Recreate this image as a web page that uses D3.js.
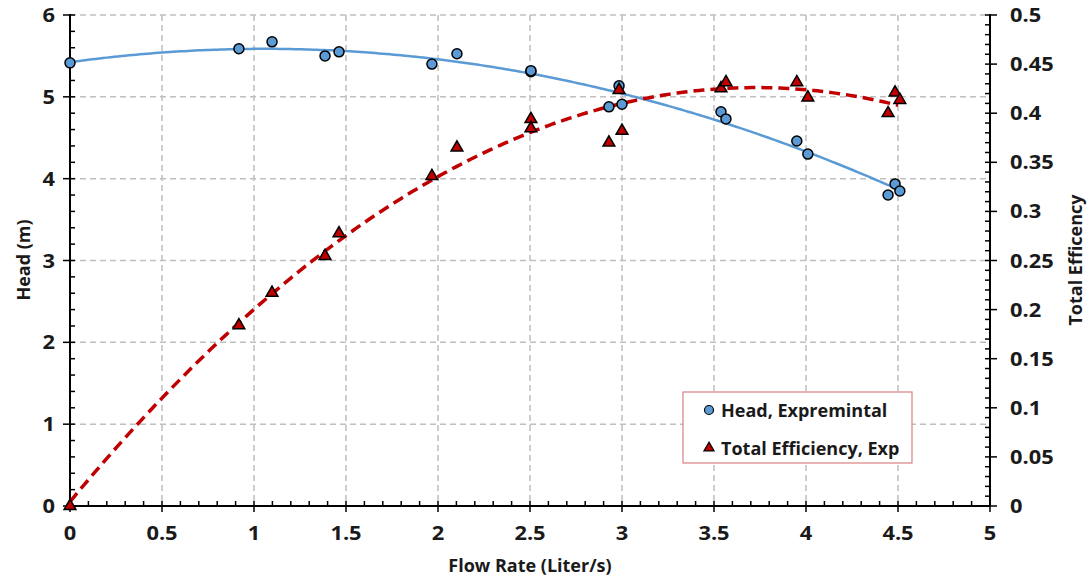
<!DOCTYPE html>
<html><head><meta charset="utf-8">
<script src="https://cdn.jsdelivr.net/npm/d3@7"></script>
<style>
body{margin:0;background:#fff;}
text{font-family:"Open Sans",sans-serif;font-weight:700;fill:#1a1a1a;}
</style></head>
<body><svg id="c" width="1087" height="581"></svg>
<script>
const flowRate = [0, 0.918, 1.098, 1.386, 1.462, 1.967, 2.103, 2.505, 2.505, 2.929, 2.984, 3.0, 3.538, 3.565, 3.95, 4.01, 4.446, 4.484, 4.51];
const headExp = [5.415, 5.587, 5.672, 5.50, 5.55, 5.40, 5.526, 5.306, 5.32, 4.878, 5.134, 4.91, 4.817, 4.73, 4.46, 4.30, 3.80, 3.936, 3.85];
const efficiencyExp = [0, 0.184, 0.217, 0.2546, 0.2777, 0.336, 0.365, 0.394, 0.3846, 0.370, 0.4236, 0.382, 0.4253, 0.4315, 0.4315, 0.416, 0.400, 0.421, 0.4134];
const xTicks = [0,0.5,1,1.5,2,2.5,3,3.5,4,4.5,5];
const headTicks = [0,1,2,3,4,5,6];
const effTicks = [0,0.05,0.1,0.15,0.2,0.25,0.3,0.35,0.4,0.45,0.5];
const legendLabels = ["Head, Expremintal","Total Efficiency, Exp"];

const svg = d3.select("#c");
const L=70,R=990,T=15,B=506;
const x = d3.scaleLinear().domain([0,5]).range([L,R]);
const yH = d3.scaleLinear().domain([0,6]).range([B,T]);
const yE = d3.scaleLinear().domain([0,0.5]).range([B,T]);

function polyfit(xs, ys, deg){
  const n=deg+1; const A=[];
  for(let i=0;i<n;i++){A.push(new Array(n+1).fill(0));}
  xs.forEach((xv,k)=>{
    for(let i=0;i<n;i++){
      for(let j=0;j<n;j++) A[i][j]+=Math.pow(xv,i+j);
      A[i][n]+=ys[k]*Math.pow(xv,i);
    }
  });
  for(let i=0;i<n;i++){
    let p=i; for(let r=i+1;r<n;r++) if(Math.abs(A[r][i])>Math.abs(A[p][i])) p=r;
    [A[i],A[p]]=[A[p],A[i]];
    for(let r=0;r<n;r++){ if(r===i) continue; const f=A[r][i]/A[i][i]; for(let c=i;c<=n;c++) A[r][c]-=f*A[i][c]; }
  }
  return A.map((row,i)=>row[n]/row[i]);
}
const pv=(c,v)=>c.reduce((s,a,i)=>s+a*Math.pow(v,i),0);

// grid
const g=svg.append("g");
xTicks.slice(1).forEach(t=>g.append("line").attr("x1",x(t)).attr("x2",x(t)).attr("y1",T).attr("y2",B)
  .attr("stroke","#bfbfbf").attr("stroke-width",1.5).attr("stroke-dasharray","6,4"));
headTicks.slice(1).forEach(t=>g.append("line").attr("x1",L).attr("x2",R).attr("y1",yH(t)).attr("y2",yH(t))
  .attr("stroke","#bfbfbf").attr("stroke-width",1.5).attr("stroke-dasharray","6,4"));

// axes
const ax=svg.append("g").attr("stroke","#000").attr("stroke-width",2);
ax.append("line").attr("x1",L).attr("x2",R).attr("y1",B).attr("y2",B);
ax.append("line").attr("x1",L).attr("x2",L).attr("y1",T-1).attr("y2",B);
ax.append("line").attr("x1",R).attr("x2",R).attr("y1",T-1).attr("y2",B);
d3.range(0,51).forEach(i=>{const v=i/10; const major=i%5===0;
  ax.append("line").attr("x1",x(v)).attr("x2",x(v)).attr("y1",major?B+6:B).attr("y2",B-5).attr("stroke-width",1.5);});
d3.range(0,31).forEach(i=>{const v=i/5; const major=i%5===0;
  ax.append("line").attr("x1",major?L-7:L).attr("x2",L+5).attr("y1",yH(v)).attr("y2",yH(v)).attr("stroke-width",1.5);});
d3.range(0,51).forEach(i=>{const v=i/100; const major=i%5===0;
  ax.append("line").attr("x1",R-5).attr("x2",major?R+7:R).attr("y1",yE(v)).attr("y2",yE(v)).attr("stroke-width",1.5);});

const fs=19, sx=1.15;
const lab=(px,py,anchor,t)=>svg.append("text").attr("transform",`translate(${px},${py}) scale(${sx},1)`)
  .attr("text-anchor",anchor).attr("font-size",fs).text(t);
xTicks.forEach(t=>lab(x(t),B+34,"middle",t));
headTicks.forEach(t=>lab(L-15,yH(t)+7,"end",t));
effTicks.forEach(t=>lab(R+20,yE(t)+7,"start",t));

svg.append("text").attr("x",530).attr("y",572).attr("text-anchor","middle").attr("font-size",18).text("Flow Rate (Liter/s)");
svg.append("text").attr("transform","translate(30,260) rotate(-90)").attr("text-anchor","middle").attr("font-size",18).text("Head (m)");
svg.append("text").attr("transform","translate(1082,260) rotate(-90)").attr("text-anchor","middle").attr("font-size",18).text("Total Efficency");

// trendlines (2nd-order polynomial fits, as in the spreadsheet)
const cH=polyfit(flowRate,headExp,2);
const cE=polyfit(flowRate,efficiencyExp,2);
const xs=d3.range(0,4.5101,0.02);
const line=(c,ys)=>d3.line().x(d=>x(d)).y(d=>ys(pv(c,d)));
svg.append("path").attr("d",line(cH,yH)(xs)).attr("fill","none").attr("stroke","#5B9BD5").attr("stroke-width",2.5);
svg.append("path").attr("d",line(cE,yE)(xs)).attr("fill","none").attr("stroke","#C00000").attr("stroke-width",3.5).attr("stroke-dasharray","11,6");

// markers
const tri=d3.symbol().type(d3.symbolTriangle).size(60);
flowRate.forEach((f,i)=>{
  svg.append("circle").attr("cx",x(f)).attr("cy",yH(headExp[i])).attr("r",5).attr("fill","#5B9BD5").attr("stroke","#000").attr("stroke-width",1.5);
});
flowRate.forEach((f,i)=>{
  svg.append("path").attr("d",tri).attr("transform",`translate(${x(f)},${yE(efficiencyExp[i])})`).attr("fill","#C00000").attr("stroke","#000").attr("stroke-width",1.5);
});

// legend
const lg=svg.append("g");
lg.append("rect").attr("x",683).attr("y",392).attr("width",229).attr("height",71).attr("fill","#fff").attr("stroke","#D98080").attr("stroke-width",1.2);
lg.append("circle").attr("cx",709).attr("cy",410).attr("r",4.5).attr("fill","#5B9BD5").attr("stroke","#000").attr("stroke-width",1.2);
lg.append("path").attr("d",d3.symbol().type(d3.symbolTriangle).size(45)).attr("transform","translate(709,448)").attr("fill","#C00000").attr("stroke","#000").attr("stroke-width",1.2);
lg.append("text").attr("x",721).attr("y",417).attr("font-size",18).text(legendLabels[0]);
lg.append("text").attr("x",721).attr("y",455).attr("font-size",18).text(legendLabels[1]);
</script></body></html>
